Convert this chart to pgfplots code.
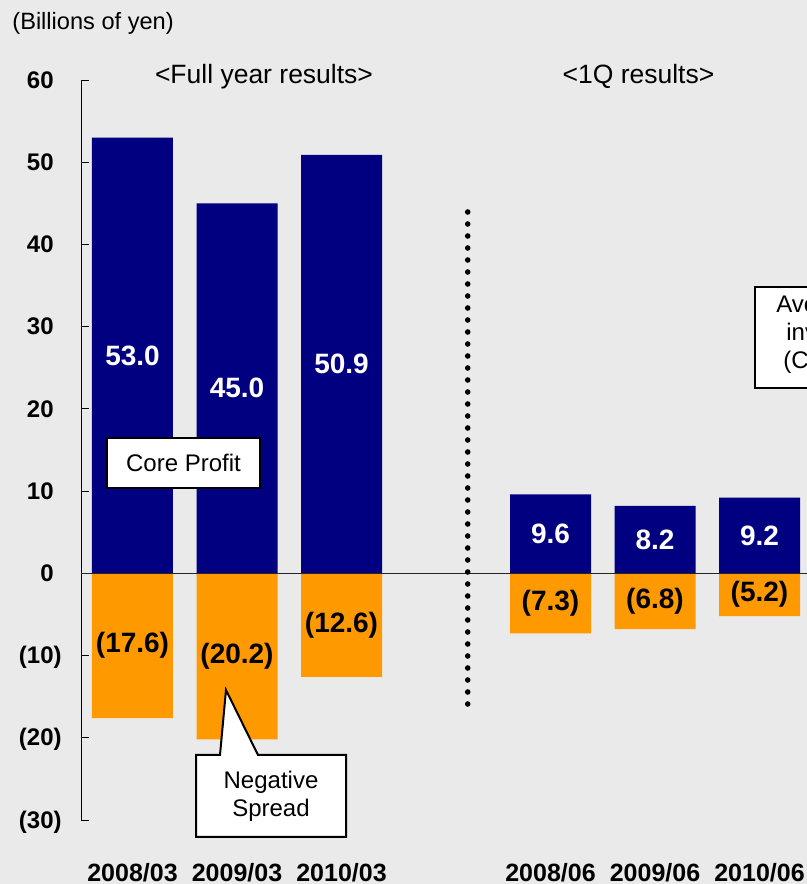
\documentclass[border=0pt]{standalone}
\usepackage{pgfplots}
\pgfplotsset{compat=1.18}
\usepackage{pgfplotstable}
\usepackage{fontspec}
\setmainfont{Liberation Sans}

\definecolor{corenavy}{HTML}{000080}
\definecolor{spreadorange}{HTML}{FF9900}
\definecolor{panelgray}{HTML}{EAEAEA}

% Core profit (positive) and negative spread (negative), billions of yen
\pgfplotstableread{
x val lbl
0 53.0 53.0
1 45.0 45.0
2 50.9 50.9
4 9.6 9.6
5 8.2 8.2
6 9.2 9.2
}\coreprofit

\pgfplotstableread{
x val lbl
0 -17.6 (17.6)
1 -20.2 (20.2)
2 -12.6 (12.6)
4 -7.3 (7.3)
5 -6.8 (6.8)
6 -5.2 (5.2)
}\negspread

\begin{document}
\begin{tikzpicture}
\path[use as bounding box] (-40.5pt,-32pt) rectangle (363pt,410pt);
\begin{scope}
\clip (-40.5pt,-32pt) rectangle (363pt,410pt);
\fill[panelgray] (-40.5pt,-32pt) rectangle (363pt,410pt);

\begin{axis}[
  at={(0pt,0pt)}, anchor=south west,
  scale only axis, width=363pt, height=370pt,
  xmin=-0.4928, xmax=6.4545, ymin=-30, ymax=60,
  axis x line*=bottom, axis y line*=left,
  x axis line style={draw=none},
  y axis line style={-, black, line width=0.5pt},
  xtick={0,1,2,4,5,6},
  xticklabels={2008/03,2009/03,2010/03,2008/06,2009/06,2010/06},
  xtick style={draw=none},
  xticklabel style={anchor=base, inner sep=0pt, yshift=-26.5pt,
    font=\bfseries\fontsize{12.5}{15}\selectfont},
  ytick={-30,-20,...,60},
  yticklabels={(30),(20),(10),{0\phantom{)}},{10\phantom{)}},{20\phantom{)}},{30\phantom{)}},{40\phantom{)}},{50\phantom{)}},{60\phantom{)}}},
  yticklabel style={anchor=east, inner sep=0pt, xshift=-9.5pt, yshift=-1pt,
    font=\bfseries\fontsize{12}{14}\selectfont},
  ytick style={black, line width=0.5pt},
  tick align=inside,
  major tick length=4pt,
  ybar, bar width=40.5pt, bar shift=0pt,
  clip=false,
  point meta=explicit symbolic,
  nodes near coords={\pgfplotspointmeta},
  visualization depends on=y \as \rawy,
  every node near coord/.append style={anchor=center,
    shift={(axis direction cs:0,-\rawy/2)},
    font=\bfseries\fontsize{14}{16}\selectfont},
]
\addplot[fill=corenavy, draw=none, nodes near coords style={text=white}]
  table[x=x, y=val, meta=lbl] {\coreprofit};
\addplot[fill=spreadorange, draw=none, nodes near coords style={text=black}]
  table[x=x, y=val, meta=lbl] {\negspread};
\draw[black!85, line width=0.6pt] (axis cs:-0.4928,0) -- (axis cs:6.4545,0);
\end{axis}

% unit label and section headings
\node[anchor=base west, inner sep=0pt] at (-34.5pt,395pt)
  {\fontsize{11.8}{14}\selectfont (Billions of yen)};
\node[anchor=base, inner sep=0pt] at (91.5pt,368pt)
  {\fontsize{13.25}{16}\selectfont <Full year results>};
\node[anchor=base, inner sep=0pt] at (278.75pt,368pt)
  {\fontsize{13.25}{16}\selectfont <1Q results>};

% separator between full-year and quarterly results
\draw[line width=2.8pt, line cap=round, dash pattern=on 0pt off 6pt]
  (193.35pt,304pt) -- (193.35pt,58pt);

% Core Profit label box
\draw[line width=1pt, fill=white] (13pt,166pt) rectangle (89.5pt,191pt);
\node at (51.25pt,178.5pt) {\fontsize{12}{14}\selectfont Core Profit};

% Negative Spread callout
\draw[line width=1pt, fill=white, line join=miter]
  (57.5pt,32.5pt) -- (69.5pt,32.5pt) -- (72.5pt,65pt) -- (88.5pt,32.5pt)
  -- (132.5pt,32.5pt) -- (132.5pt,-8.5pt) -- (57.5pt,-8.5pt) -- cycle;
\node[align=center, font=\fontsize{12}{14}\selectfont] at (95pt,12pt)
  {Negative\\Spread};

% Average investment yield box
\draw[line width=1pt, fill=white] (337pt,216pt) rectangle (390pt,266.5pt);
\node[anchor=base west, inner sep=0pt, font=\fontsize{12}{14}\selectfont]
  at (347.5pt,253.5pt) {Average yield on};
\node[anchor=base west, inner sep=0pt, font=\fontsize{12}{14}\selectfont]
  at (352.5pt,239.5pt) {investments};
\node[anchor=base west, inner sep=0pt, font=\fontsize{12}{14}\selectfont]
  at (351pt,225.5pt) {(Core Profit)};
\end{scope}
\end{tikzpicture}
\end{document}
